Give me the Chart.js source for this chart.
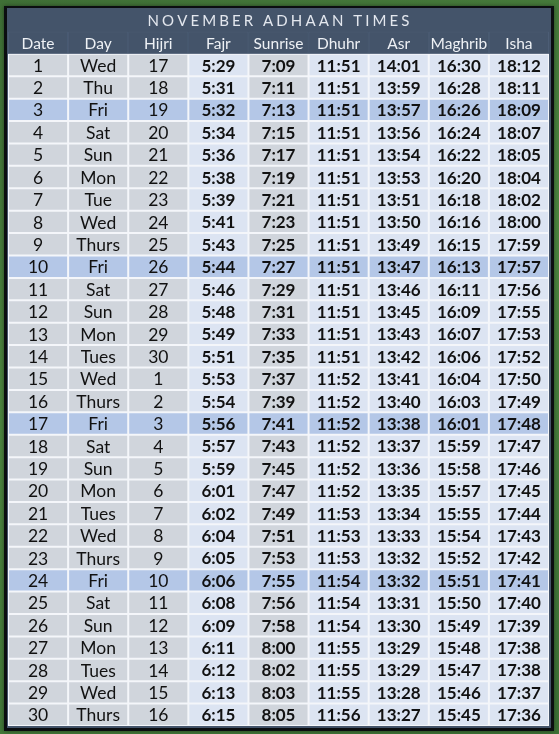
<!DOCTYPE html>
<html>
<head>
<meta charset="utf-8">
<script src="https://cdn.jsdelivr.net/npm/chart.js@4/dist/chart.umd.min.js"></script>
<style>
  html, body { margin: 0; padding: 0; }
  body {
    width: 559px; height: 734px; overflow: hidden;
    background: linear-gradient(160deg, #3f6f36 0%, #4c843f 45%, #3d7035 100%);
  }
  #wrap { position: relative; width: 559px; height: 734px; }
</style>
</head>
<body>
<div id="wrap"><canvas id="adhaan"></canvas></div>
<script>
const title = "NOVEMBER ADHAAN TIMES";
const headers = ["Date", "Day", "Hijri", "Fajr", "Sunrise", "Dhuhr", "Asr", "Maghrib", "Isha"];

const dates = [1, 2, 3, 4, 5, 6, 7, 8, 9, 10, 11, 12, 13, 14, 15, 16, 17, 18, 19, 20, 21, 22, 23, 24, 25, 26, 27, 28, 29, 30];
const days = ["Wed", "Thu", "Fri", "Sat", "Sun", "Mon", "Tue", "Wed", "Thurs", "Fri", "Sat", "Sun", "Mon", "Tues", "Wed",
  "Thurs", "Fri", "Sat", "Sun", "Mon", "Tues", "Wed", "Thurs", "Fri", "Sat", "Sun", "Mon", "Tues", "Wed", "Thurs"];
const hijri = [17, 18, 19, 20, 21, 22, 23, 24, 25, 26, 27, 28, 29, 30, 1, 2, 3, 4, 5, 6, 7, 8, 9, 10, 11, 12, 13, 14, 15, 16];
const fajr = ["5:29", "5:31", "5:32", "5:34", "5:36", "5:38", "5:39", "5:41", "5:43", "5:44", "5:46", "5:48", "5:49", "5:51", "5:53",
  "5:54", "5:56", "5:57", "5:59", "6:01", "6:02", "6:04", "6:05", "6:06", "6:08", "6:09", "6:11", "6:12", "6:13", "6:15"];
const sunrise = ["7:09", "7:11", "7:13", "7:15", "7:17", "7:19", "7:21", "7:23", "7:25", "7:27", "7:29", "7:31", "7:33", "7:35", "7:37",
  "7:39", "7:41", "7:43", "7:45", "7:47", "7:49", "7:51", "7:53", "7:55", "7:56", "7:58", "8:00", "8:02", "8:03", "8:05"];
const dhuhr = ["11:51", "11:51", "11:51", "11:51", "11:51", "11:51", "11:51", "11:51", "11:51", "11:51", "11:51", "11:51", "11:51", "11:51", "11:52",
  "11:52", "11:52", "11:52", "11:52", "11:52", "11:53", "11:53", "11:53", "11:54", "11:54", "11:54", "11:55", "11:55", "11:55", "11:56"];
const asr = ["14:01", "13:59", "13:57", "13:56", "13:54", "13:53", "13:51", "13:50", "13:49", "13:47", "13:46", "13:45", "13:43", "13:42", "13:41",
  "13:40", "13:38", "13:37", "13:36", "13:35", "13:34", "13:33", "13:32", "13:32", "13:31", "13:30", "13:29", "13:29", "13:28", "13:27"];
const maghrib = ["16:30", "16:28", "16:26", "16:24", "16:22", "16:20", "16:18", "16:16", "16:15", "16:13", "16:11", "16:09", "16:07", "16:06", "16:04",
  "16:03", "16:01", "15:59", "15:58", "15:57", "15:55", "15:54", "15:52", "15:51", "15:50", "15:49", "15:48", "15:47", "15:46", "15:45"];
const isha = ["18:12", "18:11", "18:09", "18:07", "18:05", "18:04", "18:02", "18:00", "17:59", "17:57", "17:56", "17:55", "17:53", "17:52", "17:50",
  "17:49", "17:48", "17:47", "17:46", "17:45", "17:44", "17:43", "17:42", "17:41", "17:40", "17:39", "17:38", "17:38", "17:37", "17:36"];

const columns = [dates, days, hijri, fajr, sunrise, dhuhr, asr, maghrib, isha];
const boldColumns = [false, false, false, true, true, true, true, true, true];
const greyColumns = [true, true, true, false, true, false, false, false, false];

const navy = "#44546a";
const greyCell = "#d0d5dc";
const blueCell = "#dce4f2";
const fridayCell = "#b4c7e7";
const gridLine = "#f4f6fa";
const fontFamily = "Lato, 'Open Sans', sans-serif";

const rowLabels = ["title", "header", ...dates.map(String)];

const cellColor = (col, row) => {
  if (days[row] === "Fri") return fridayCell;
  return greyColumns[col] ? greyCell : blueCell;
};

const datasets = [
  {
    // title bar
    data: rowLabels.map((_, i) => (i === 0 ? [0, headers.length] : null)),
    backgroundColor: navy,
    borderWidth: 0,
  },
  ...headers.map((_, col) => ({
    data: rowLabels.map((_, i) => (i === 0 ? null : [col, col + 1])),
    backgroundColor: rowLabels.map((_, i) => (i === 1 ? navy : cellColor(col, i - 2))),
    borderColor: rowLabels.map((_, i) => (i === 1 ? "#4c5d75" : gridLine)),
    borderWidth: 1,
    borderSkipped: false,
  })),
];

const framePlugin = {
  id: "frame",
  beforeDraw(chart) {
    const { ctx, chartArea, scales } = chart;
    ctx.save();
    ctx.shadowColor = "rgba(0,0,0,0.45)";
    ctx.shadowBlur = 4;
    ctx.fillStyle = "#0b0d10";
    ctx.fillRect(chartArea.left - 4, chartArea.top - 3, chartArea.width + 9, chartArea.height + 8);
    ctx.restore();
    ctx.fillStyle = navy;
    ctx.fillRect(chartArea.left - 1, chartArea.top - 1, chartArea.width + 3, chartArea.height + 3);
    // light backing behind the body so the cell seams read as white lines
    const bodyTop = scales.y.getPixelForValue(1.5);
    ctx.fillStyle = gridLine;
    ctx.fillRect(chartArea.left, bodyTop, chartArea.width, chartArea.bottom - bodyTop);
  },
};

const textPlugin = {
  id: "cellText",
  afterDatasetsDraw(chart) {
    const { ctx, scales } = chart;
    const x = scales.x;
    const y = scales.y;
    ctx.save();
    ctx.textBaseline = "middle";

    // title with wide letter spacing
    ctx.font = `15px ${fontFamily}`;
    ctx.fillStyle = "#e3e7ee";
    const chars = title.split("");
    const widths = chars.map((ch) => ctx.measureText(ch).width);
    const targetWidth = 262;
    const spacing = (targetWidth - widths.reduce((a, b) => a + b, 0)) / (chars.length - 1);
    let cx = x.getPixelForValue(headers.length / 2) - targetWidth / 2;
    const ty = y.getPixelForValue(0) + 0.5;
    ctx.textAlign = "left";
    chars.forEach((ch, i) => {
      ctx.fillText(ch, cx, ty);
      cx += widths[i] + spacing;
    });

    // header row
    ctx.textAlign = "center";
    ctx.font = `15.5px ${fontFamily}`;
    ctx.fillStyle = "#eef1f5";
    headers.forEach((h, col) => {
      ctx.fillText(h, x.getPixelForValue(col + 0.5), y.getPixelForValue(1) + 1);
    });

    // body cells
    ctx.fillStyle = "#111111";
    columns.forEach((values, col) => {
      ctx.font = boldColumns[col] ? `bold 17px ${fontFamily}` : `17.5px ${fontFamily}`;
      values.forEach((v, row) => {
        ctx.fillText(String(v), x.getPixelForValue(col + 0.5), y.getPixelForValue(row + 2) + 1);
      });
    });
    ctx.restore();
  },
};

new Chart(document.getElementById("adhaan"), {
  type: "bar",
  data: { labels: rowLabels, datasets },
  options: {
    indexAxis: "y",
    responsive: true,
    maintainAspectRatio: false,
    animation: false,
    events: [],
    layout: { padding: { left: 8, right: 10, top: 9, bottom: 8 } },
    datasets: {
      bar: {
        grouped: false,
        barPercentage: 1,
        categoryPercentage: 1,
        inflateAmount: 0,
      },
    },
    plugins: {
      legend: { display: false },
      tooltip: { enabled: false },
    },
    scales: {
      x: { type: "linear", min: 0, max: headers.length, display: false },
      y: { type: "category", display: false, offset: true },
    },
  },
  plugins: [framePlugin, textPlugin],
});
</script>
</body>
</html>
